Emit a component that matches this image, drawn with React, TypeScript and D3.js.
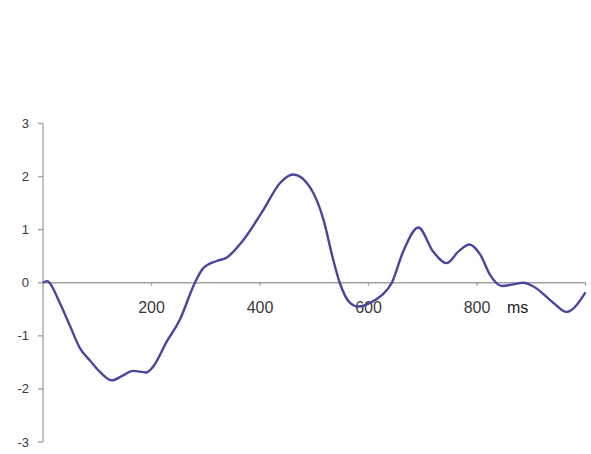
import React from "react";
import * as d3 from "d3";

const msPoints: number[] = [0, 7, 31, 50, 68, 87, 105, 127, 145, 166, 190, 203, 228, 252, 280, 295, 320, 338, 369, 406, 437, 461, 492, 517, 535, 547, 566, 581, 603, 624, 643, 664, 692, 719, 744, 766, 786, 806, 824, 846, 867, 885, 904, 941, 965, 1000];
const values: number[] = [0, 0.03, -0.38, -0.82, -1.23, -1.47, -1.68, -1.84, -1.76, -1.66, -1.69, -1.58, -1.11, -0.7, 0, 0.27, 0.41, 0.47, 0.8, 1.37, 1.88, 2.04, 1.8, 1.19, 0.43, 0, -0.38, -0.45, -0.38, -0.24, 0, 0.59, 1.04, 0.59, 0.37, 0.59, 0.72, 0.53, 0.15, -0.06, -0.03, 0, -0.07, -0.38, -0.55, -0.18];
const xTicks: number[] = [200, 400, 600, 800, 1000];
const xTickLabels: string[] = ["200", "400", "600", "800", ""];
const yTicks: number[] = [3, 2, 1, 0, -1, -2, -3];
const unitLabel = "ms";

export default function App() {
  const x = d3.scaleLinear().domain([0, 1000]).range([43, 585.5]);
  const y = d3.scaleLinear().domain([-3, 3]).range([442, 123.5]);
  const data = msPoints.map((m, i) => [m, values[i]] as [number, number]);
  const line = d3
    .line<[number, number]>()
    .x((d) => x(d[0]))
    .y((d) => y(d[1]))
    .curve(d3.curveMonotoneX);
  const axisColor = "#a0a0a0";
  const font = "Liberation Sans, Arial, sans-serif";
  return (
    <div style={{ position: "fixed", left: 0, top: 0 }}>
      <svg width={591} height={454} style={{ display: "block", background: "#fff" }}>
        <line x1={x(0)} x2={x(0)} y1={y(3)} y2={y(-3)} stroke={axisColor} strokeWidth={1.3} />
        {yTicks.map((t) => (
          <g key={"y" + t}>
            <line x1={x(0) - 5} x2={x(0)} y1={y(t)} y2={y(t)} stroke={axisColor} strokeWidth={1.3} />
            <text x={29} y={y(t)} dy="0.35em" textAnchor="end" fontFamily={font} fontSize={13} fill="#3a3a3a">
              {t}
            </text>
          </g>
        ))}
        <line x1={x(0)} x2={x(1000)} y1={y(0)} y2={y(0)} stroke={axisColor} strokeWidth={1.3} />
        {xTicks.map((t, i) => (
          <g key={"x" + t}>
            <line x1={x(t)} x2={x(t)} y1={y(0)} y2={y(0) + 3} stroke={axisColor} strokeWidth={1.3} />
            <text x={x(t)} y={y(0) + 25} dy="0.35em" textAnchor="middle" fontFamily={font} fontSize={16} fill="#3a3a3a">
              {xTickLabels[i]}
            </text>
          </g>
        ))}
        <text x={507} y={y(0) + 25} dy="0.35em" fontFamily={font} fontSize={16} fill="#1a1a1a">
          {unitLabel}
        </text>
        <path d={line(data) || ""} fill="none" stroke="#4a46a0" strokeWidth={2.4} strokeLinejoin="round" />
      </svg>
    </div>
  );
}
